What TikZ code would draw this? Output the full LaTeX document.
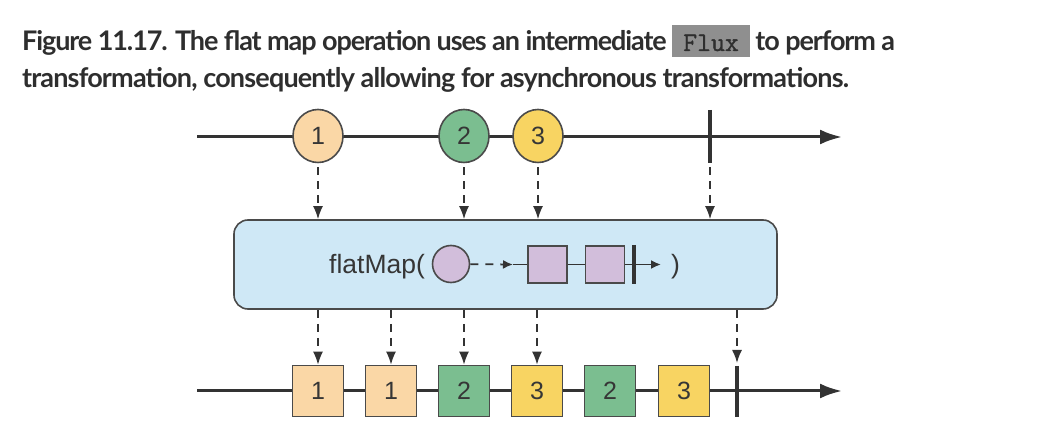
\documentclass[tikz,border=0pt]{standalone}
\usepackage{fontspec}
\setmainfont{Liberation Sans}
\newfontfamily\titlefont{Lato}
\newfontfamily\fluxfont[FakeBold=1.2]{Latin Modern Mono}
\usepackage{xcolor}
\usetikzlibrary{arrows.meta,shapes.geometric,positioning}

\definecolor{peach}{HTML}{FAD7A6}
\definecolor{mint}{HTML}{7BBE90}
\definecolor{sun}{HTML}{F8D462}
\definecolor{lilac}{HTML}{D2BEDB}
\definecolor{boxblue}{HTML}{CFE8F6}
\definecolor{bordergray}{HTML}{4A4A4A}
\definecolor{linegray}{HTML}{333333}
\definecolor{numgray}{HTML}{363636}
\definecolor{titlegray}{HTML}{2E2E2E}
\definecolor{fluxgray}{HTML}{8F8F8F}

\newcommand\fluxbox[1]{{\setlength\fboxsep{0pt}\colorbox{fluxgray}{\makebox[78pt]{\rule[-6pt]{0pt}{32pt}\color{titlegray}\fluxfont\fontsize{27}{27}\selectfont #1}}}}

\begin{document}
\begin{tikzpicture}
		[   x=1pt,y=-1pt,
			enode/.style={draw=bordergray,line width=1.6pt,fill=#1,ellipse,minimum width=50pt,minimum height=53pt,inner sep=0pt,text=numgray,font=\fontsize{25}{25}\selectfont},
			rnode/.style={draw=bordergray,line width=1.6pt,fill=#1,rectangle,minimum width=51pt,minimum height=51pt,inner sep=0pt,text=numgray,font=\fontsize{25}{25}\selectfont},
			qnode/.style={draw=bordergray,line width=1.6pt,fill=lilac,rectangle,minimum width=39pt,minimum height=37pt,inner sep=0pt},
			capline/.style={anchor=base west,inner sep=0pt,text=titlegray,font=\titlefont\bfseries\fontsize{27}{30}\selectfont},
		]
		\tikzset{time arrow/.style={draw=linegray,line width=3pt,-{Latex[length=22pt,width=15pt]}}}
		\tikzset{drop arrow/.style={draw=linegray,line width=1.6pt,dash pattern=on 8pt off 6pt,-{Latex[length=13pt,width=10pt]}}}
		\tikzset{inner arrow/.style={draw=linegray,line width=1.8pt,-{Latex[length=10pt,width=9pt]}}}
		\tikzset{end tick/.style={draw=linegray,line width=3.5pt}}
		
		\useasboundingbox (0,0) rectangle (1042,438);
		
		% caption
		\node[capline] (cap-1) at (22,51) {\addfontfeature{LetterSpace=-4.1}Figure 11.17. The flat map operation uses an intermediate \fluxbox{Flux} to perform a};
		\node[capline] (cap-2) at (22,88) {\addfontfeature{LetterSpace=-3.1}transformation, consequently allowing for asynchronous transformations.};
		
		% source flux
		\coordinate (s-start) at (197,137);
		\coordinate (s-end) at (842,137);
		\path[time arrow] (s-start) -- (s-end);
		\node[enode=peach] (e-1) at (318,136) {1};
		\node[enode=mint] (e-2) at (464,136) {2};
		\node[enode=sun] (e-3) at (538,136) {3};
		\coordinate (k-top) at (710,110);
		\coordinate (k-bot) at (710,163);
		\path[end tick] (k-top) -- (k-bot);
		
		% operator
		\node[draw=bordergray,line width=1.6pt,fill=boxblue,rounded corners=14pt,minimum width=543pt,minimum height=89pt] (op) at (505.5,264.5) {};
		\node[anchor=base west,inner sep=0pt,text=numgray,font=\fontsize{26.5}{26.5}\selectfont] (fm) at (329,274) {flatMap(};
		\node[draw=bordergray,line width=1.6pt,fill=lilac,circle,minimum size=37pt,inner sep=0pt] (pc) at (451,264) {};
		\node[qnode] (q-1) at (547.5,264.5) {};
		\node[qnode] (q-2) at (605,264.5) {};
		\coordinate (m) at (513,264.5);
		\coordinate (q-end) at (661,264.5);
		\coordinate (ik-top) at (634,245);
		\coordinate (ik-bot) at (634,284);
		\path[inner arrow,dash pattern=on 8pt off 7pt] (pc) -- (m);
		\path[draw=linegray,line width=1.8pt] (m) -- (q-1);
		\path[draw=linegray,line width=1.8pt] (q-1) -- (q-2);
		\path[inner arrow] (q-2) -- (q-end);
		\path[draw=linegray,line width=3.5pt] (ik-top) -- (ik-bot);
		\node[anchor=base west,inner sep=0pt,text=numgray,font=\fontsize{26.5}{26.5}\selectfont] (cp) at (671,274) {)};
		
		% result flux
		\coordinate (r-start) at (197,391);
		\coordinate (r-end) at (842,391);
		\path[time arrow] (r-start) -- (r-end);
		\foreach \i/\x/\c/\t in {1/318/peach/1,2/391/peach/1,3/464/mint/2,4/537/sun/3,5/610/mint/2,6/684/sun/3}
		{
			\node[rnode=\c] (r-\i) at (\x,391) {\t};
		}
		\coordinate (b-top) at (737,366);
		\coordinate (b-bot) at (737,417);
		\path[end tick] (b-top) -- (b-bot);
		
		% drops into the operator
		\foreach \i in {1,...,3}
		{
			\path[drop arrow] ([yshift=-4pt]e-\i.south) -- (e-\i.south |- op.north);
		}
		\path[drop arrow] ([yshift=-4pt]k-bot) -- (k-bot |- op.north);
		
		% drops out of the operator
		\foreach \i in {1,...,4}
		{
			\path[drop arrow] (op.south -| r-\i) -- (r-\i.north);
		}
		\path[drop arrow,shorten >=3pt] (op.south -| b-top) -- (b-top);
		
\end{tikzpicture}
\end{document}
